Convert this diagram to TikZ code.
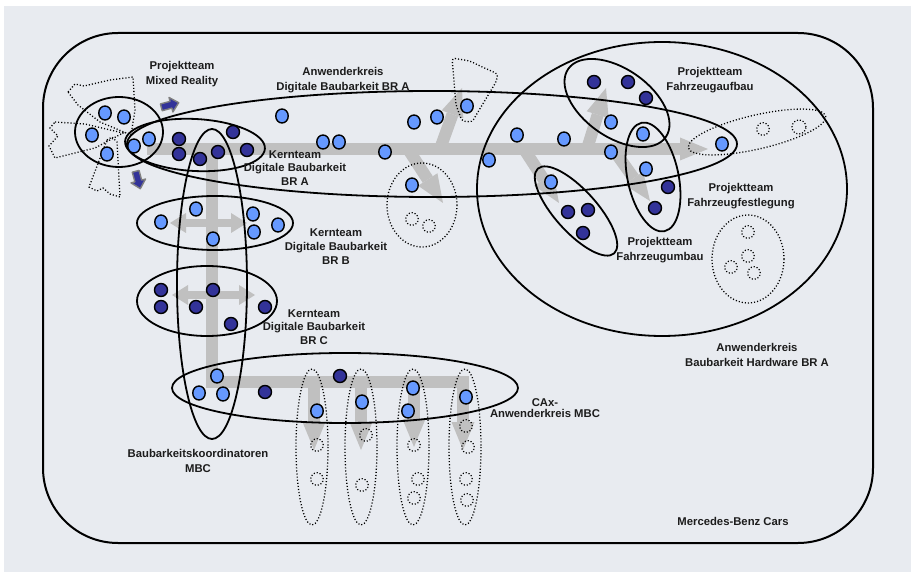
\documentclass[tikz,border=0pt]{standalone}
\usepackage{fontspec}
\setmainfont{Liberation Sans}
\usetikzlibrary{arrows.meta,shapes.geometric}
\definecolor{bgc}{RGB}{232,235,240}
\definecolor{lightdot}{RGB}{102,153,255}
\definecolor{darkdot}{RGB}{51,51,153}
\definecolor{flow}{RGB}{192,192,192}
\definecolor{ink}{RGB}{28,28,28}
\begin{document}
\begin{tikzpicture}[x=1pt,y=-1pt,
  lbl/.style={font=\bfseries\fontsize{11.3}{15}\selectfont, align=center, text=ink, inner sep=0pt},
  ldot/.style={ellipse, draw=black, line width=1.4pt, fill=lightdot, minimum width=12.5pt, minimum height=14pt, inner sep=0pt},
  ddot/.style={circle, draw=black, line width=1.4pt, fill=darkdot, minimum size=13pt, inner sep=0pt},
  ghost/.style={circle, draw=black, line width=1.2pt, dash pattern=on 1.1pt off 1.9pt, minimum size=12.5pt, inner sep=0pt},
  group/.style={draw=black, line width=1.8pt},
  dotline/.style={draw=black, line width=1.3pt, dash pattern=on 1.1pt off 2pt},
  flowbar/.style={draw=flow, line width=12pt},
  flowarrow/.style={flowbar, -{Triangle[width=23pt,length=28pt,line width=0pt]}},
  flowdouble/.style={draw=flow, line width=8pt, {Triangle[width=20pt,length=16pt,line width=0pt]}-{Triangle[width=20pt,length=16pt,line width=0pt]}},
  movearrow/.style={fill=darkdot, draw=gray, line width=1.4pt, line join=round}
]
% canvas
\useasboundingbox (0,0) rectangle (911,572);
\fill[white] (0,0) rectangle (911,572);
\fill[bgc] (4,6) rectangle (911,572);
\draw[line width=2pt, rounded corners=75pt] (43,33) rectangle (873,543);

% --- grey flow arrows ---------------------------------------------
\coordinate (fs) at (147,149);
\coordinate (fe) at (708,149);
\draw[flowarrow] (fs) -- (fe);
\coordinate (b1s) at (440,149); \coordinate (b1e) at (462,88);
\coordinate (b2s) at (408,149); \coordinate (b2e) at (443,203);
\coordinate (b3s) at (587,149); \coordinate (b3e) at (606,88);
\coordinate (b4s) at (524,149); \coordinate (b4e) at (559,203);
\coordinate (b5s) at (613,149); \coordinate (b5e) at (650,201);
\foreach \s/\e in {b1s/b1e,b2s/b2e,b3s/b3e,b4s/b4e,b5s/b5e}
  \draw[flowarrow] (\s) -- (\e);
\coordinate (ts) at (212,149);
\coordinate (tc) at (212,382);
\coordinate (te) at (469,382);
\draw[flowbar, line join=miter] (ts) -- (tc) -- (te);
\foreach \x/\t [count=\i] in {314/450,361/450,414/447,463/450} {
  \coordinate (d\i s) at (\x,382);
  \coordinate (d\i e) at (\x,\t);
  \draw[flowarrow] (d\i s) -- (d\i e);
}
\coordinate (kbL) at (170,223); \coordinate (kbR) at (247,223);
\draw[flowdouble] (kbL) -- (kbR);
\coordinate (kcL) at (172,295); \coordinate (kcR) at (255,295);
\draw[flowdouble] (kcL) -- (kcR);

% --- solid group outlines ---------------------------------------------
\draw[group] (119,132) ellipse [x radius=44, y radius=35];
\draw[group] (432,144) ellipse [x radius=305, y radius=53];
\draw[group, rotate around={-3:(195,145)}] (195,145) ellipse [x radius=70, y radius=26];
\draw[group] (212,284) ellipse [x radius=35, y radius=155];
\draw[group] (215,223) ellipse [x radius=78, y radius=27];
\draw[group] (207,301) ellipse [x radius=70, y radius=35];
\draw[group] (345,388) ellipse [x radius=173, y radius=35];
\draw[group] (662,189) ellipse [x radius=185, y radius=147];
\draw[group, rotate around={-35:(617,103)}] (617,103) ellipse [x radius=59.5, y radius=34];
\draw[group, rotate around={12:(653,177)}] (653,177) ellipse [x radius=25.5, y radius=55.4];
\draw[group, rotate around={-48:(576,211)}] (576,211) ellipse [x radius=57, y radius=21];

% --- dotted (potential) groups ----------------------------------------
\draw[dotline] (422,205) ellipse [x radius=35, y radius=42];
\draw[dotline] (748,259) ellipse [x radius=36, y radius=44];
\draw[dotline, rotate around={13:(757,132)}] (757,132) ellipse [x radius=70.5, y radius=17];
\foreach \x in {312,361,413,465}
  \draw[dotline] (\x,447) ellipse [x radius=16, y radius=78];
\draw[dotline, rounded corners=3pt] (452,58) -- (470,61) -- (480,66) -- (498,74) -- (496,82)
  -- (472,122) -- (462,121) -- (456,105) -- cycle;
% petals around the mixed reality team
\draw[dotline] (68,92) -- (75,84) -- (84,86) -- (110,80) -- (133,77) -- (135,110)
  -- (131,135) -- (100,122) -- (78,105) -- cycle;
\draw[dotline] (55,122) -- (85,124) -- (123,133) -- (95,148) -- (55,158) -- (49,146)
  -- (58,136) -- (50,128) -- cycle;
\draw[dotline] (107,140) -- (112,137) -- (117,142) -- (120,197) -- (110,194) -- (103,188)
  -- (97,191) -- (89,187) -- cycle;

% empty places
\foreach \p [count=\i] in {(412,219),(429,226),(763,129),(748,232),(748,256),(731,267),(754,273),
  (317,445),(317,479),(366,435),(362,485),(414,445),(418,479),(414,498),
  (466,426),(468,447),(466,479),(467,500)}
  \node[ghost] (g\i) at \p {};
\node[ghost, minimum size=14pt] (gbig) at (799,127) {};

% --- members ----------------------------------------------------------
\foreach \p [count=\i] in {(105,113),(124,117),(92,135),(107,154),(134,146),(149,139),
  (282,116),(323,142),(339,142),(385,152),(414,122),(437,117),(467,106),(412,185),
  (517,135),(564,139),(489,160),(611,122),(611,152),(643,134),(646,169),(551,182),(722,144),
  (161,222),(196,209),(213,239),(253,214),(254,232),(278,225),
  (217,376),(199,393),(223,394),(317,411),(362,402),(413,388),(408,411),(466,397)}
  \node[ldot] (l\i) at \p {};
\foreach \p [count=\i] in {(179,139),(179,154),(200,159),(218,152),(233,132),(247,150),
  (594,82),(628,82),(646,98),(668,187),(655,208),(568,212),(588,210),(583,233),
  (161,290),(161,307),(213,290),(196,307),(265,307),(231,324),
  (265,392),(340,376)}
  \node[ddot] (k\i) at \p {};

% --- small movement arrows ----------------------------------------------
\begin{scope}[shift={(170,105)}, rotate=15]
  \filldraw[movearrow] (-9,-3.5) -- (1,-3.5) -- (1,-7.5) -- (9,0) -- (1,7.5) -- (1,3.5) -- (-9,3.5) -- cycle;
\end{scope}
\begin{scope}[shift={(138,180)}, rotate=-75]
  \filldraw[movearrow] (-9,-3.5) -- (1,-3.5) -- (1,-7.5) -- (9,0) -- (1,7.5) -- (1,3.5) -- (-9,3.5) -- cycle;
\end{scope}

% --- labels -------------------------------------------------------------
\node[lbl] (tmr) at (182,74) {Projektteam\\Mixed Reality};
\node[lbl] (tawa) at (343,80) {Anwenderkreis\\Digitale Baubarkeit BR A};
\node[lbl, font=\bfseries\fontsize{11.3}{13.5}\selectfont] (tkta) at (295,168) {Kernteam\\Digitale Baubarkeit\\BR A};
\node[lbl, font=\bfseries\fontsize{11.3}{14}\selectfont] (tktb) at (336,247) {Kernteam\\Digitale Baubarkeit\\BR B};
\node[lbl, font=\bfseries\fontsize{11.3}{13.5}\selectfont] (tktc) at (314,327) {Kernteam\\Digitale Baubarkeit\\BR C};
\node[lbl] (tbk) at (198,461) {Baubarkeitskoordinatoren\\MBC};
\node[lbl, font=\bfseries\fontsize{11.3}{11.5}\selectfont] (tcax) at (545,408) {CAx-\\Anwenderkreis MBC};
\node[lbl] (tfa) at (710,80) {Projektteam\\Fahrzeugaufbau};
\node[lbl] (tff) at (741,196) {Projektteam\\Fahrzeugfestlegung};
\node[lbl] (tfu) at (660,250) {Projektteam\\Fahrzeugumbau};
\node[lbl] (thw) at (757,355) {Anwenderkreis\\Baubarkeit Hardware BR A};
\node[lbl] (tmbc) at (733,521) {Mercedes-Benz Cars};
\end{tikzpicture}
\end{document}
